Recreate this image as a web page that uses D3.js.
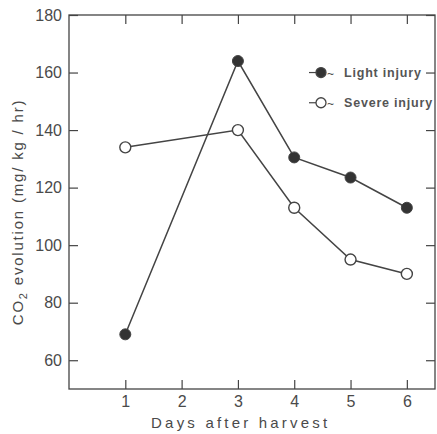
<!DOCTYPE html>
<html>
<head>
<meta charset="utf-8">
<script src="https://cdn.jsdelivr.net/npm/d3@7"></script>
<style>
  body { margin:0; background:#fff; }
  text { font-family: "Liberation Sans", Arial, sans-serif; fill:#4a4a4a; }
</style>
</head>
<body>
<div id="chart-area"></div>
<script>
// data
var days = [1, 3, 4, 5, 6];
var lightInjury = [69, 164, 130.5, 123.5, 113];
var severeInjury = [134, 140, 113, 95, 90];
var xTicks = [1, 2, 3, 4, 5, 6];
var yTicks = [60, 80, 100, 120, 140, 160, 180];

var margin = { left:69, right:2, top:15, bottom:45 };
var width = 437 - margin.left - margin.right,
    height = 434 - margin.top - margin.bottom;
var ink = "#444";

var svg = d3.select("#chart-area").append("svg")
    .attr("width", 437).attr("height", 434);
var g = svg.append("g")
    .attr("transform", "translate(" + margin.left + "," + margin.top + ")");

var x = d3.scaleLinear().domain([0, 6.5]).range([0, width]);
var y = d3.scaleLinear().domain([50, 180]).range([height, 0]);

// frame
g.append("rect")
    .attr("width", width).attr("height", height)
    .attr("fill", "none").attr("stroke", ink).attr("stroke-width", 1.3);

// inward ticks on all four sides
var tk = 9;
function styleAxis(sel) {
    sel.select(".domain").remove();
    sel.selectAll(".tick line").attr("stroke", ink).attr("stroke-width", 1.2);
    sel.selectAll("text").attr("fill", "#4a4a4a").style("font-size", "16px");
}
g.append("g").attr("transform", "translate(0," + height + ")")
    .call(d3.axisBottom(x).tickValues(xTicks).tickSizeInner(-tk).tickPadding(7).tickFormat(d3.format("d")))
    .call(styleAxis);
g.append("g")
    .call(d3.axisTop(x).tickValues(xTicks).tickSizeInner(-tk).tickFormat(""))
    .call(styleAxis);
g.append("g")
    .call(d3.axisLeft(y).tickValues(yTicks).tickSizeInner(-tk).tickPadding(7).tickFormat(d3.format("d")))
    .call(styleAxis);
g.append("g").attr("transform", "translate(" + width + ",0)")
    .call(d3.axisRight(y).tickValues(yTicks).tickSizeInner(-tk).tickFormat(""))
    .call(styleAxis);

// lines
var line = d3.line()
    .x(function(d, i) { return x(days[i]); })
    .y(function(d) { return y(d); });

g.append("path").datum(lightInjury)
    .attr("d", line).attr("fill", "none").attr("stroke", ink).attr("stroke-width", 1.5);
g.append("path").datum(severeInjury)
    .attr("d", line).attr("fill", "none").attr("stroke", ink).attr("stroke-width", 1.5);

g.selectAll(".light").data(lightInjury).enter().append("circle")
    .attr("class", "light")
    .attr("cx", function(d, i) { return x(days[i]); })
    .attr("cy", function(d) { return y(d); })
    .attr("r", 5.5).attr("fill", "#333").attr("stroke", ink);
g.selectAll(".severe").data(severeInjury).enter().append("circle")
    .attr("class", "severe")
    .attr("cx", function(d, i) { return x(days[i]); })
    .attr("cy", function(d) { return y(d); })
    .attr("r", 5.5).attr("fill", "#fff").attr("stroke", ink).attr("stroke-width", 1.4);

// legend
var legend = [
    { label: "Light injury", fill: "#333", yv: 160 },
    { label: "Severe injury", fill: "#fff", yv: 149.5 }
];
var lg = g.selectAll(".leg").data(legend).enter().append("g")
    .attr("transform", function(d) { return "translate(240," + y(d.yv) + ")"; });
lg.append("line").attr("x1", 0).attr("x2", 7).attr("stroke", ink).attr("stroke-width", 1.2);
lg.append("circle").attr("cx", 12).attr("r", 5)
    .attr("fill", function(d) { return d.fill; }).attr("stroke", ink).attr("stroke-width", 1.3);
lg.append("text").attr("x", 18).attr("y", 5).style("font-size", "12px").text("~");
lg.append("text").attr("x", 35).attr("y", 4.5)
    .style("font-size", "12.5px").style("letter-spacing", "0.8px")
    .style("font-weight", "bold").style("fill", "#555")
    .text(function(d) { return d.label; });

// axis titles
svg.append("text")
    .attr("x", margin.left + x(3.05)).attr("y", 428)
    .attr("text-anchor", "middle")
    .style("font-size", "15px").style("letter-spacing", "3.2px")
    .text("Days after harvest");

var yl = svg.append("text")
    .attr("transform", "translate(23,212) rotate(-90)")
    .attr("text-anchor", "middle")
    .style("font-size", "15px").style("letter-spacing", "1.8px");
yl.append("tspan").text("CO");
yl.append("tspan").attr("dy", 4).style("font-size", "11px").text("2");
yl.append("tspan").attr("dy", -4).text(" evolution (mg/ kg / hr)");
</script>
</body>
</html>
